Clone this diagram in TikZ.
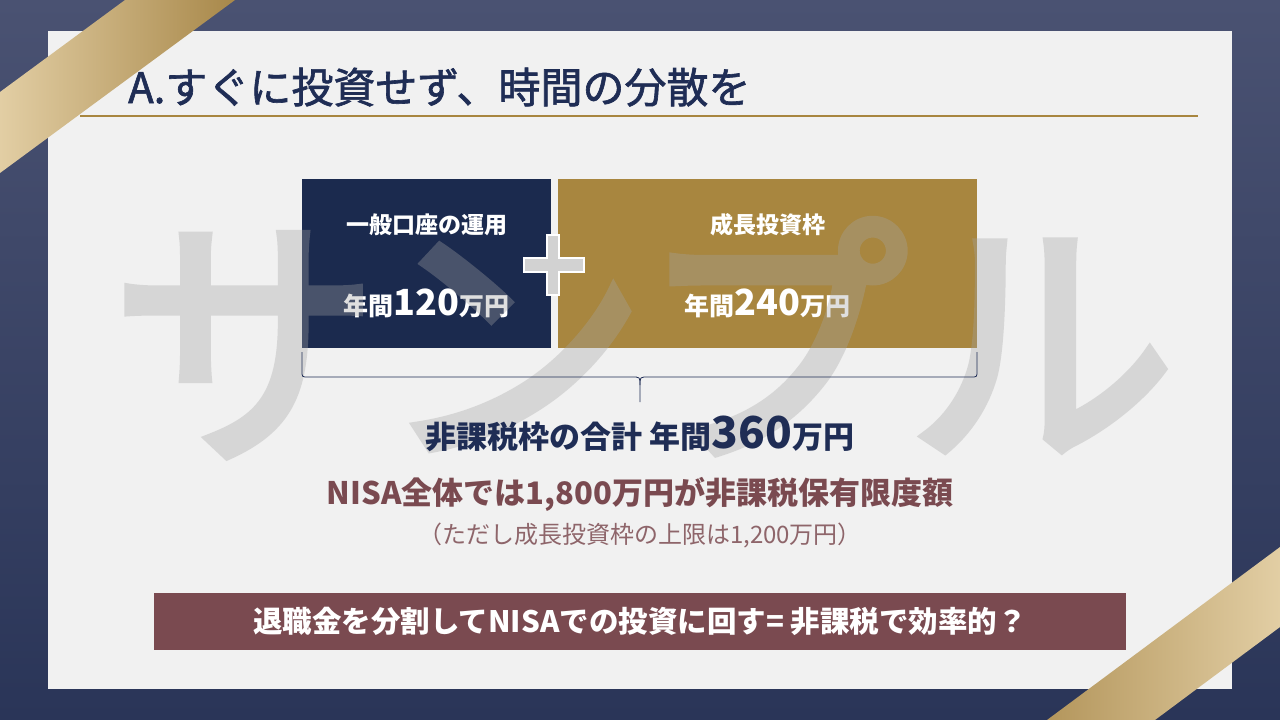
\documentclass[tikz,border=0pt]{standalone}
\usepackage{fontspec}
\setmainfont{Noto Sans CJK JP}
\newfontfamily\wmfont{Noto Sans CJK JP}[FakeBold=3.5]
\newfontfamily\titlefont{Noto Sans CJK JP}[FakeBold=1.5]
\usepackage{tikz}
\usetikzlibrary{positioning}
\definecolor{bgtop}{HTML}{4A5272}
\definecolor{bgbot}{HTML}{2A3558}
\definecolor{panel}{HTML}{F1F1F1}
\definecolor{navy}{HTML}{1B2A4E}
\definecolor{gold}{HTML}{A8863F}
\definecolor{goldlight}{HTML}{E2CEA4}
\definecolor{golddark}{HTML}{A8884A}
\definecolor{maroon}{HTML}{7A4A50}
\definecolor{inktext}{HTML}{1F2D55}
\definecolor{wmgray}{HTML}{A4A4A4}
\tikzset{box/.style={inner sep=0pt, outer sep=0pt, minimum height=169pt},
  boxtext/.style={text=white, inner sep=0pt, font=\fontsize{23}{28}\selectfont\bfseries},
  bracel/.style={draw=inktext, line width=0.8pt},
  watermark/.style={text=wmgray, inner sep=0pt, font=\wmfont\fontsize{268}{290}\selectfont}}
\newcommand{\bignum}[1]{{\fontsize{36}{40}\selectfont #1}}

\begin{document}
\begin{tikzpicture}[x=1pt, y=-1pt]
\useasboundingbox (0,0) rectangle (1280,720);
\begin{scope}
\clip (0,0) rectangle (1280,720);
% background and panel
\shade[top color=bgtop, bottom color=bgbot] (0,0) rectangle (1280,720);
\fill[panel] (48,31) rectangle (1232,689);
% gold bands in two corners
\shade[left color=goldlight, right color=golddark] (125,0) -- (235,0) -- (0,173) -- (0,92) -- cycle;
\shade[left color=golddark!80!goldlight, right color=goldlight] (1047,720) -- (1155,720) -- (1280,627) -- (1280,547) -- cycle;
\end{scope}

% title and rule
\node[anchor=base west, inner sep=0pt, text=inktext, font=\titlefont\fontsize{42}{48}\selectfont] (title) at (128,103) {A.すぐに投資せず、時間の分散を};
\draw[gold, line width=2pt] (80,116) -- (1198,116);

% the two boxes
\node[box, fill=navy, minimum width=249pt] (ippan) at (426.5,263.5) {};
\node[box, fill=gold, minimum width=419pt] (seicho) at (767.5,263.5) {};
\node[boxtext] (ippanT) at (426.5,225) {一般口座の運用};
\node[boxtext, font=\fontsize{25}{30}\selectfont\bfseries] (ippanV) at (426.5,303) {年間\bignum{120}万円};
\node[boxtext] (seichoT) at (767.5,225) {成長投資枠};
\node[boxtext, font=\fontsize{25}{30}\selectfont\bfseries] (seichoV) at (767.5,303) {年間\bignum{240}万円};

% watermark
\begin{scope}[transparency group, opacity=0.34]
\node[watermark] (sample) at (643,338) {サンプル};
\end{scope}

% plus sign
\filldraw[fill=gray!35, draw=white, line width=1.5pt] (547,235) -- (559,235) -- (559,258) -- (584,258) -- (584,272) -- (559,272) -- (559,295) -- (547,295) -- (547,272) -- (524,272) -- (524,258) -- (547,258) -- cycle;

% brace under the boxes
\coordinate (tip) at (640,402);
\draw[bracel] ([yshift=-4pt]ippan.south west) -- (302,371) .. controls (302,377) .. (308,377) -- (632,377) .. controls (640,377) .. (640,385) -- (tip);
\draw[bracel] ([yshift=-4pt]seicho.south east) -- (977,371) .. controls (977,377) .. (971,377) -- (648,377) .. controls (640,377) .. (640,385);

% totals
\node[text=inktext, inner sep=0pt, font=\fontsize{31}{36}\selectfont\bfseries] (total) at (640,434) {非課税枠の合計 年間{\fontsize{44}{48}\selectfont 360}万円};
\node[text=maroon, inner sep=0pt, font=\fontsize{31}{36}\selectfont\bfseries] (limit) at (640,494) {NISA全体では1,800万円が非課税保有限度額};
\node[text=maroon!85!white, inner sep=0pt, font=\fontsize{24}{28}\selectfont] (note) at (640,536) {（ただし成長投資枠の上限は1,200万円）};

% conclusion bar
\node[fill=maroon, text=white, minimum width=972pt, minimum height=57pt, inner sep=0pt, font=\fontsize{29.5}{34}\selectfont\bfseries] (concl) at (640,621.5) {退職金を分割してNISAでの投資に回す= 非課税で効率的？};
\end{tikzpicture}
\end{document}
